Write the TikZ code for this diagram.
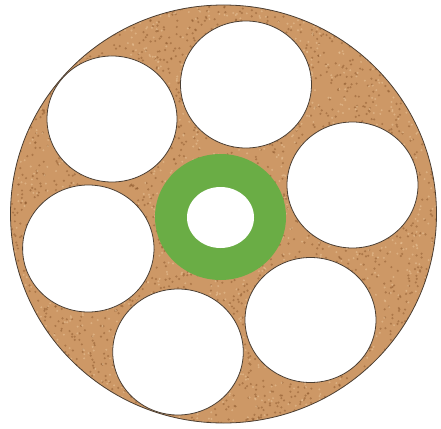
\documentclass[tikz,border=0pt]{standalone}
\usepackage{tikz}

\definecolor{cork}{RGB}{205,152,102}
\definecolor{corkdark}{RGB}{140,88,45}
\definecolor{corklight}{RGB}{230,192,148}
\definecolor{sheath}{RGB}{106,173,69}
\definecolor{rim}{RGB}{75,62,50}

\begin{document}
\begin{tikzpicture}[
        x=1pt, y=-1pt,
        hole/.style={fill=white, draw=rim, line width=0.8pt},
        ring/.style={fill=sheath},
        core/.style={fill=white}
    ]

        % page frame
        \fill[white] (0,0) rectangle (441,428);
        \useasboundingbox (0,0) rectangle (441,428);

        % cork disc with speckles
        \fill[cork] (223.5,214) ellipse (213 and 209);
        \begin{scope}
            \clip (223.5,214) ellipse (213 and 209);
            \pgfmathsetseed{7}
            \foreach \i in {1,...,3000} {
                \pgfmathsetmacro{\px}{10+427*rnd}
                \pgfmathsetmacro{\py}{5+418*rnd}
                \fill[corkdark, opacity=0.5] (\px,\py) circle (1.2pt);
            }
            \foreach \i in {1,...,2000} {
                \pgfmathsetmacro{\px}{10+427*rnd}
                \pgfmathsetmacro{\py}{5+418*rnd}
                \fill[corklight, opacity=0.6] (\px,\py) circle (1.1pt);
            }
        \end{scope}
        \draw[rim, line width=0.8pt] (223.5,214) ellipse (213 and 209);

        % six white holes
        \draw[hole] (112,119) ellipse (65 and 63);
        \draw[hole] (246,84.5) ellipse (65.5 and 63.5);
        \draw[hole] (352.5,185) ellipse (65.5 and 63);
        \draw[hole] (310.5,320) ellipse (65.5 and 62.5);
        \draw[hole] (178,352) ellipse (65.3 and 63);
        \draw[hole] (88.3,248.5) ellipse (65.7 and 63.5);

        % green centre ring
        \fill[ring] (220.5,217) ellipse (65.5 and 63);
        \fill[core] (220.5,217.5) ellipse (33.5 and 30.5);

\end{tikzpicture}
\end{document}
